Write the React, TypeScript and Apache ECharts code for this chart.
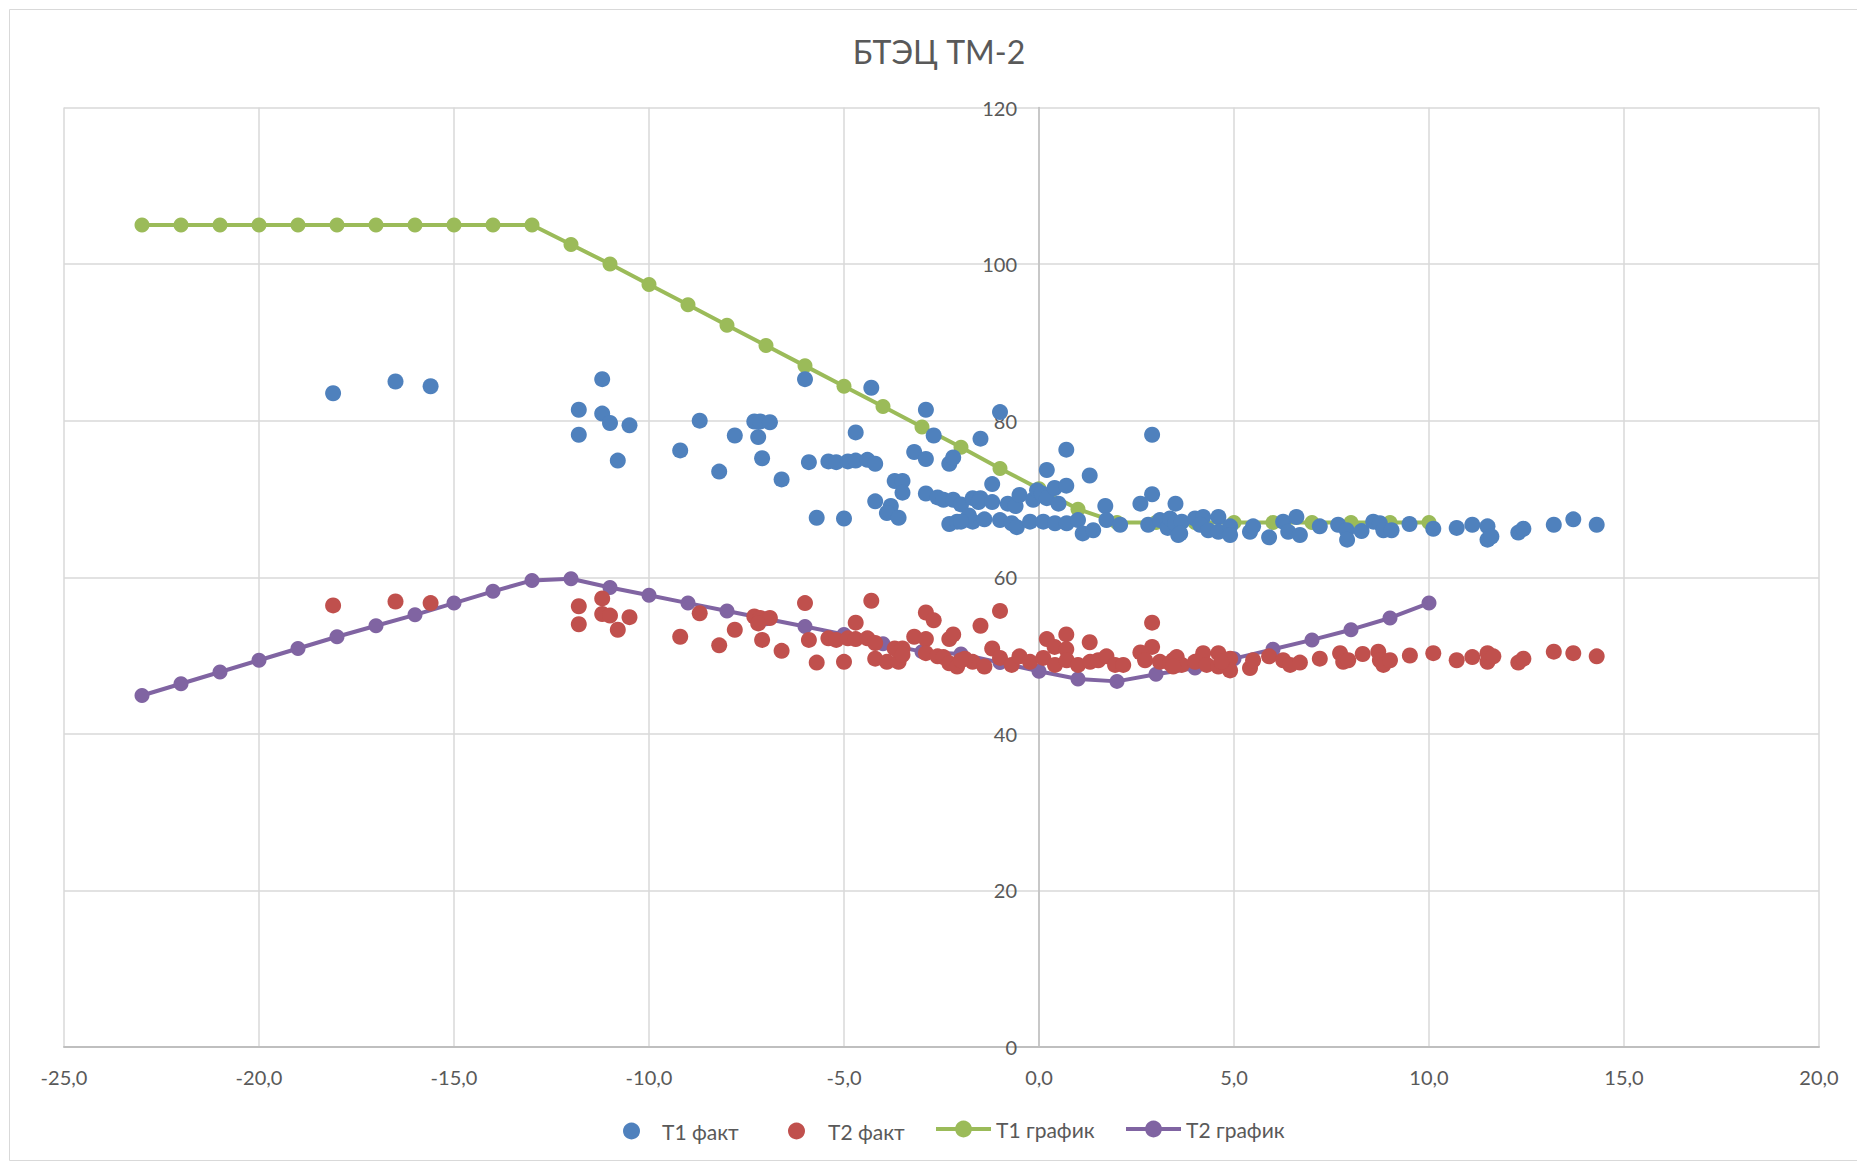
import React, { useEffect, useRef } from "react";
import * as echarts from "echarts";

const TITLE = "БТЭЦ ТМ-2";
const SERIES_NAMES = ["Т1 факт", "Т2 факт", "Т1 график", "Т2 график"];
const COLORS = ["#4f81bd", "#c0504d", "#9bbb59", "#8064a2"];

// Scheduled (график) curves, outdoor temperature -23..10
const GRAPH_X = [-23, -22, -21, -20, -19, -18, -17, -16, -15, -14, -13, -12, -11, -10, -9, -8, -7, -6, -5, -4, -3, -2, -1, 0, 1, 2, 3, 4, 5, 6, 7, 8, 9, 10];
const T1_GRAPH = [105, 105, 105, 105, 105, 105, 105, 105, 105, 105, 105, 102.5, 100, 97.4, 94.8, 92.2, 89.6, 87.0, 84.4, 81.8, 79.2, 76.6, 73.9, 71.3, 68.7, 67, 67, 67, 67, 67, 67, 67, 67, 67];
const T2_GRAPH = [44.9, 46.4, 47.9, 49.4, 50.9, 52.4, 53.8, 55.2, 56.7, 58.2, 59.6, 59.8, 58.7, 57.7, 56.7, 55.7, 54.7, 53.7, 52.7, 51.5, 50.5, 50.2, 49.1, 48.0, 47.0, 46.7, 47.6, 48.4, 49.6, 50.8, 52.0, 53.3, 54.8, 56.7];

// Measured (факт) points [outdoor temperature, water temperature]
const T1_FACT: [number, number][] = [
  [-18.1, 83.5], [-16.5, 85.0], [-15.6, 84.4],
  [-11.8, 81.4], [-11.8, 78.2], [-11.2, 85.3], [-11.2, 80.9], [-11.0, 79.7], [-10.8, 74.9], [-10.5, 79.4],
  [-9.2, 76.2], [-8.7, 80.0], [-8.2, 73.5], [-7.8, 78.1], [-7.3, 79.9], [-7.15, 79.9], [-6.9, 79.8], [-7.2, 77.9], [-7.1, 75.2], [-6.6, 72.5],
  [-6.0, 85.3], [-5.9, 74.7], [-5.7, 67.6], [-5.4, 74.8], [-5.2, 74.7], [-5.0, 67.5], [-4.9, 74.8], [-4.7, 78.5], [-4.7, 74.9], [-4.4, 75.0], [-4.3, 84.2], [-4.2, 74.5], [-4.2, 69.7],
  [-3.8, 69.1], [-3.9, 68.2], [-3.6, 67.6], [-3.7, 72.3], [-3.5, 72.3], [-3.5, 70.8], [-3.2, 76.0],
  [-2.9, 81.4], [-2.9, 75.1], [-2.7, 78.1], [-2.9, 70.7], [-2.6, 70.2], [-2.45, 69.9], [-2.3, 74.5], [-2.2, 75.3], [-2.2, 69.9], [-2.0, 69.3], [-2.3, 66.8], [-2.1, 67.1],
  [-1.7, 67.1], [-1.8, 67.9], [-1.7, 70.1], [-1.5, 70.1], [-1.5, 77.7], [-1.55, 69.6], [-1.2, 71.9], [-1.2, 69.6], [-1.0, 81.1], [-0.8, 69.4], [-0.6, 69.1], [-0.5, 70.5],
  [-0.15, 69.9], [-0.05, 71.1], [0.07, 70.7], [0.2, 70.1], [0.2, 73.7], [0.4, 71.4], [0.5, 69.4], [0.7, 71.7], [0.7, 76.3], [1.3, 73.0], [1.7, 69.1], [2.6, 69.4], [2.9, 70.6], [2.9, 78.2], [3.5, 69.4],
  [-2.0, 67.1], [-1.4, 67.4], [-1.0, 67.3], [-0.7, 66.9], [-0.57, 66.4], [-0.23, 67.1], [0.11, 67.1], [0.41, 66.9], [0.71, 66.9], [1.0, 67.3], [1.12, 65.6], [1.39, 66.0], [1.73, 67.3], [2.08, 66.7], [2.8, 66.7], [3.1, 67.3], [3.3, 66.3], [3.57, 65.4],
  [3.36, 67.5], [3.49, 66.9], [3.66, 67.1], [3.62, 65.6], [4.0, 67.5], [4.21, 67.7], [4.6, 67.7], [4.13, 66.7], [4.34, 66.0], [4.6, 65.8], [4.9, 66.5], [4.9, 65.4], [5.41, 65.8], [5.49, 66.5], [5.9, 65.1], [6.26, 67.1], [6.6, 67.7], [6.39, 65.8], [6.69, 65.4],
  [7.2, 66.5], [7.67, 66.7], [7.89, 66.0], [7.9, 64.8], [8.27, 65.9], [8.57, 67.1], [8.74, 66.9], [8.83, 66.0], [9.04, 66.0], [9.5, 66.8], [10.11, 66.2], [10.71, 66.3], [11.11, 66.7], [11.5, 66.5], [11.5, 64.8], [11.6, 65.2], [12.29, 65.7], [12.42, 66.2], [13.2, 66.7], [13.7, 67.4], [14.3, 66.7],
];

const T2_FACT: [number, number][] = [
  [-18.1, 56.4], [-16.5, 56.9], [-15.6, 56.7],
  [-11.8, 56.3], [-11.8, 54.0], [-11.2, 57.3], [-11.2, 55.3], [-11.0, 55.1], [-10.8, 53.3], [-10.5, 54.9],
  [-9.2, 52.4], [-8.7, 55.4], [-8.2, 51.3], [-7.8, 53.3], [-7.3, 55.0], [-7.15, 54.8], [-6.9, 54.8], [-7.2, 54.1], [-7.1, 52.0], [-6.6, 50.6],
  [-6.0, 56.7], [-5.9, 52.0], [-5.7, 49.1], [-5.4, 52.2], [-5.2, 52.0], [-5.0, 49.2], [-4.9, 52.2], [-4.7, 54.2], [-4.7, 52.1], [-4.4, 52.2], [-4.3, 57.0], [-4.2, 51.6], [-4.2, 49.6],
  [-3.9, 49.2], [-3.6, 49.2], [-3.7, 50.9], [-3.5, 50.9], [-3.5, 50.1], [-3.2, 52.4],
  [-2.9, 55.5], [-2.7, 54.5], [-2.9, 52.1], [-2.9, 50.3], [-2.6, 49.9], [-2.45, 49.8], [-2.3, 52.1], [-2.2, 52.7], [-2.3, 49.0], [-2.1, 48.6],
  [-1.7, 49.2], [-1.9, 49.6], [-1.5, 53.8], [-1.0, 55.7], [-1.2, 50.9], [0.7, 52.7], [0.2, 52.1], [1.3, 51.7], [0.4, 51.1], [0.7, 50.8], [2.9, 54.2], [2.9, 51.1], [2.6, 50.4],
  [-2.0, 49.4], [-1.4, 48.6], [-1.0, 49.7], [-0.7, 48.8], [-0.5, 49.9], [-0.23, 49.2], [0.11, 49.7], [0.41, 48.8], [0.71, 49.4], [1.0, 48.8], [1.31, 49.2], [1.52, 49.4], [1.73, 49.9], [1.95, 48.8], [2.16, 48.8], [2.72, 49.4], [3.1, 49.2], [3.44, 49.4],
  [3.36, 49.0], [3.53, 49.8], [3.66, 48.8], [3.44, 48.6], [4.0, 49.2], [4.21, 50.3], [4.3, 48.8], [4.6, 50.3], [4.6, 48.6], [4.9, 49.6], [4.9, 48.1], [4.68, 49.2], [5.41, 48.4], [5.49, 49.4], [5.9, 49.9], [6.26, 49.4], [6.44, 48.8], [6.69, 49.1],
  [7.2, 49.6], [7.72, 50.3], [7.8, 49.2], [7.93, 49.4], [8.3, 50.2], [8.7, 50.5], [8.74, 49.4], [8.83, 48.8], [9.0, 49.4], [9.51, 50.0], [10.11, 50.3], [10.71, 49.4], [11.11, 49.8], [11.5, 50.3], [11.5, 49.2], [11.65, 49.9], [12.29, 49.1], [12.42, 49.6], [13.2, 50.5], [13.7, 50.3], [14.3, 49.9],
];

const X_MIN = -25, X_MAX = 20, X_STEP = 5;
const Y_MIN = 0, Y_MAX = 120, Y_STEP = 20;

const FONT = "Lato";
const TEXT_COLOR = "#595959";

// layout (pixels)
const GRID_LEFT = 64;
const GRID_RIGHT = 38;
const PLOT_WIDTH = 1857 - GRID_LEFT - GRID_RIGHT;
const Y_AXIS_OFFSET = -((0 - X_MIN) / (X_MAX - X_MIN)) * PLOT_WIDTH;

const legendText = { color: TEXT_COLOR, fontSize: 21, fontFamily: FONT };

export default function App() {
  const ref = useRef<HTMLDivElement>(null);
  useEffect(() => {
    const chart = echarts.init(ref.current!, null, { renderer: "svg" });
    const option: any = {
      animation: false,
      backgroundColor: "#ffffff",
      textStyle: { fontFamily: FONT },
      title: {
        text: TITLE,
        left: 939,
        top: 35,
        padding: 0,
        textAlign: "center",
        textStyle: { fontSize: 32, fontWeight: "normal", color: TEXT_COLOR, fontFamily: FONT },
      },
      graphic: [
        {
          type: "rect",
          silent: true,
          shape: { x: 9.5, y: 9.5, width: 1900, height: 1151 },
          style: { fill: "none", stroke: "#d9d9d9", lineWidth: 1 },
        },
      ],
      grid: { left: GRID_LEFT, right: GRID_RIGHT, top: 107.5, bottom: 116, containLabel: false },
      xAxis: {
        type: "value",
        min: X_MIN,
        max: X_MAX,
        interval: X_STEP,
        axisLine: { show: true, onZero: false, lineStyle: { color: "#bfbfbf", width: 2 } },
        axisTick: { show: false },
        axisLabel: {
          color: TEXT_COLOR,
          fontSize: 20,
          fontFamily: FONT,
          margin: 20,
          formatter: (v: number) => v.toFixed(1).replace(".", ","),
        },
        splitLine: { show: true, lineStyle: { color: "#d9d9d9", width: 1.5 } },
      },
      yAxis: {
        type: "value",
        min: Y_MIN,
        max: Y_MAX,
        interval: Y_STEP,
        position: "left",
        offset: Y_AXIS_OFFSET,
        axisLine: { show: true, onZero: false, lineStyle: { color: "#bfbfbf", width: 1.5 } },
        axisTick: { show: false },
        axisLabel: { color: TEXT_COLOR, fontSize: 20, fontFamily: FONT, margin: 22 },
        splitLine: { show: true, lineStyle: { color: "#d9d9d9", width: 1.5 } },
      },
      legend: [
        {
          data: [SERIES_NAMES[0]],
          left: 623,
          top: 1120.5,
          padding: 0,
          itemWidth: 17,
          itemHeight: 17,
          textStyle: { ...legendText, padding: [0, 0, 0, 17] },
        },
        {
          data: [SERIES_NAMES[1]],
          left: 788,
          top: 1120.5,
          padding: 0,
          itemWidth: 17,
          itemHeight: 17,
          textStyle: { ...legendText, padding: [0, 0, 0, 18] },
        },
        {
          data: [SERIES_NAMES[2]],
          left: 934,
          top: 1118.5,
          padding: 0,
          itemWidth: 55,
          itemHeight: 21,
          lineStyle: { width: 4 },
          textStyle: legendText,
        },
        {
          data: [SERIES_NAMES[3]],
          left: 1124,
          top: 1118.5,
          padding: 0,
          itemWidth: 55,
          itemHeight: 21,
          lineStyle: { width: 4 },
          textStyle: legendText,
        },
      ],
      series: [
        {
          name: SERIES_NAMES[2],
          type: "line",
          z: 2,
          data: GRAPH_X.map((x, i) => [x, T1_GRAPH[i]]),
          symbol: "circle",
          symbolSize: 15,
          showAllSymbol: true,
          lineStyle: { color: COLORS[2], width: 4 },
          itemStyle: { color: COLORS[2] },
        },
        {
          name: SERIES_NAMES[3],
          type: "line",
          z: 2,
          data: GRAPH_X.map((x, i) => [x, T2_GRAPH[i]]),
          symbol: "circle",
          symbolSize: 15,
          showAllSymbol: true,
          lineStyle: { color: COLORS[3], width: 4 },
          itemStyle: { color: COLORS[3] },
        },
        {
          name: SERIES_NAMES[0],
          type: "scatter",
          z: 3,
          data: T1_FACT,
          symbol: "circle",
          symbolSize: 16,
          itemStyle: { color: COLORS[0], opacity: 1 },
        },
        {
          name: SERIES_NAMES[1],
          type: "scatter",
          z: 3,
          data: T2_FACT,
          symbol: "circle",
          symbolSize: 16,
          itemStyle: { color: COLORS[1], opacity: 1 },
        },
      ],
    };
    chart.setOption(option);
    return () => chart.dispose();
  }, []);
  return (
    <div
      ref={ref}
      style={{ position: "fixed", left: 0, top: 0, width: 1857, height: 1163, background: "#ffffff" }}
    />
  );
}
